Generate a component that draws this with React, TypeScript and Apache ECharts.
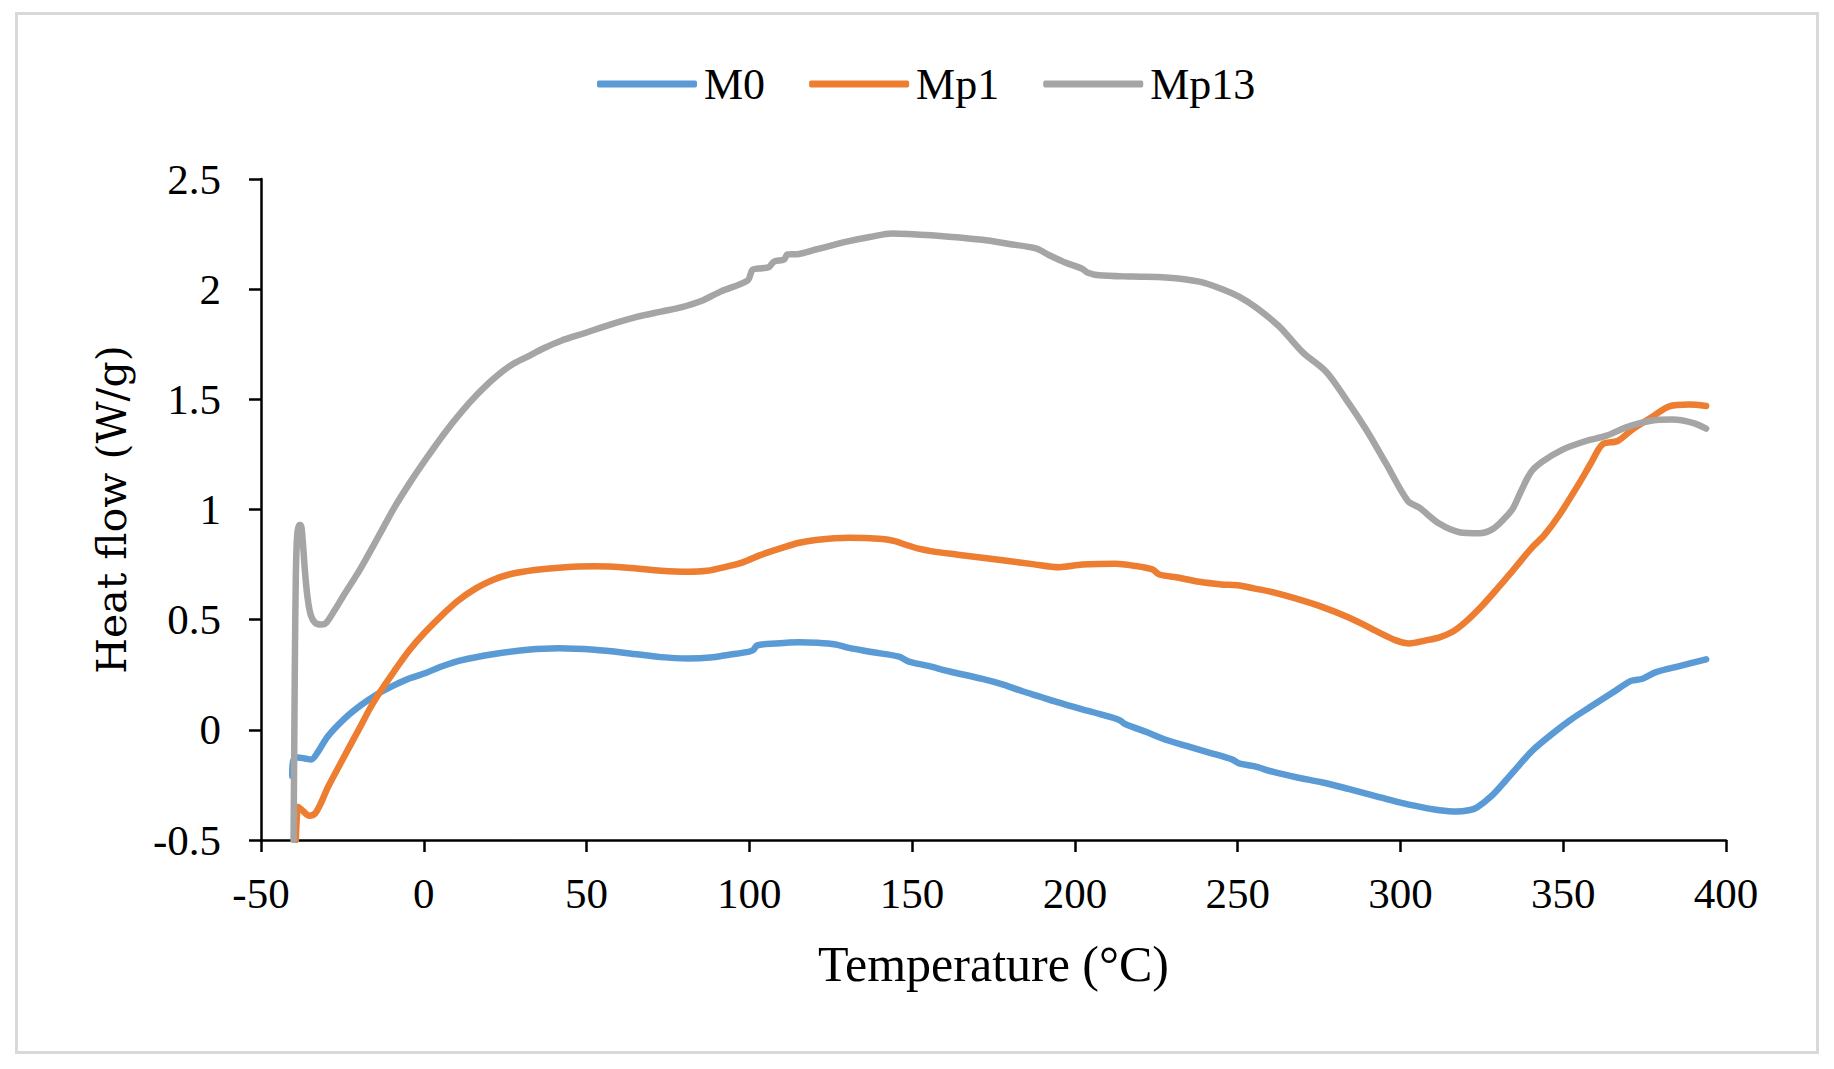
import { useEffect, useRef } from "react";
import * as echarts from "echarts";

// temperature (°C), heat flow (W/g) pairs
const m0: [number, number][] = [
  [-40.4, -0.21], [-40.1, -0.14], [-38.7, -0.125], [-36.5, -0.13], [-34.6, -0.135], [-32.5, -0.1],
  [-29.5, -0.03], [-24.4, 0.05], [-19.3, 0.112], [-14.2, 0.163], [-9, 0.203], [-4.5, 0.233],
  [0.6, 0.258], [5, 0.285], [11.4, 0.315], [21.7, 0.344], [31.9, 0.363], [41.5, 0.37], [52.4, 0.363],
  [62.6, 0.348], [72.9, 0.33], [81.1, 0.324], [88, 0.328], [93.4, 0.34], [100, 0.355], [101.2, 0.362],
  [102.4, 0.383], [108, 0.392], [115.3, 0.398], [121, 0.395], [126.5, 0.387], [130.6, 0.372],
  [138, 0.352], [146, 0.332], [149, 0.31], [155, 0.29], [161.3, 0.266], [171.6, 0.231], [178, 0.205],
  [183.9, 0.175], [189, 0.152], [194.1, 0.128], [202.3, 0.093], [208, 0.07], [213.6, 0.045],
  [215.6, 0.025], [222, -0.01], [227.9, -0.045], [234, -0.072], [241.2, -0.103], [248.4, -0.135],
  [250.4, -0.152], [255, -0.165], [260.7, -0.19], [268, -0.215], [276.1, -0.239], [284, -0.268],
  [291.5, -0.297], [299, -0.327], [306.8, -0.352], [312, -0.365], [317.1, -0.371], [321, -0.365],
  [323.5, -0.352], [328, -0.3], [332.4, -0.229], [336.5, -0.16], [340.6, -0.093], [346.8, -0.016],
  [352.9, 0.052], [358, 0.101], [365.2, 0.169], [370.8, 0.222], [374.4, 0.232], [378.5, 0.262],
  [385.7, 0.289], [393.9, 0.32],
];

const mp1: [number, number][] = [
  [-39.3, -0.5], [-39.0, -0.4], [-38.6, -0.35], [-37, -0.37], [-35.2, -0.39], [-33.4, -0.38],
  [-31.5, -0.33], [-29.5, -0.262], [-24.4, -0.12], [-19.3, 0.02], [-16.5, 0.098], [-13.75, 0.165],
  [-9, 0.268], [-4.5, 0.36], [0, 0.437], [5.7, 0.522], [10.5, 0.586], [16, 0.642], [21, 0.679],
  [26.2, 0.705], [34, 0.725], [41.5, 0.736], [52.4, 0.742], [62.6, 0.736], [72.9, 0.722], [81.1, 0.717],
  [87, 0.722], [93.4, 0.742], [98, 0.76], [103.6, 0.794], [110.1, 0.826], [115, 0.848], [120.4, 0.862],
  [130.6, 0.872], [140.9, 0.866], [145, 0.855], [148, 0.84], [152, 0.822], [156.2, 0.81], [164, 0.795],
  [171.6, 0.781], [179, 0.767], [187, 0.752], [195.1, 0.738], [202.3, 0.75], [212.5, 0.754],
  [218, 0.745], [223.8, 0.728], [225.9, 0.705], [232, 0.69], [238.2, 0.672], [245, 0.66],
  [250.5, 0.655], [255, 0.642], [260.7, 0.625], [268, 0.595], [276.1, 0.557], [284.3, 0.509],
  [289, 0.475], [293.5, 0.441], [298.6, 0.406], [302.7, 0.392], [307.8, 0.406], [312, 0.42],
  [316, 0.445], [320, 0.49], [325.3, 0.567], [330, 0.645], [334.5, 0.723], [340.6, 0.83], [344, 0.88],
  [348.8, 0.975], [355, 1.121], [358.5, 1.21], [362.1, 1.296], [366.7, 1.311], [371.3, 1.364],
  [377.5, 1.422], [382.6, 1.468], [388.7, 1.476], [393.9, 1.47],
];

const mp13: [number, number][] = [
  [-40.0, -0.5], [-39.8, -0.1], [-39.6, 0.3], [-39.3, 0.7], [-38.9, 0.88], [-38.3, 0.93], [-37.8, 0.93],
  [-37.2, 0.86], [-36.5, 0.72], [-35.7, 0.6], [-34.7, 0.52], [-33.3, 0.485], [-31.5, 0.478],
  [-30, 0.485], [-27.5, 0.54], [-24.4, 0.615], [-19.9, 0.72], [-14.2, 0.87], [-9, 1.01],
  [-3.9, 1.13], [0, 1.215], [6.3, 1.345], [11.4, 1.44], [16.6, 1.525], [21.7, 1.597], [26.8, 1.655],
  [31.9, 1.694], [37, 1.733], [42.2, 1.766], [49.3, 1.8], [57.5, 1.84], [65.7, 1.875], [72.9, 1.898],
  [79, 1.917], [85.2, 1.946], [91.3, 1.99], [99.5, 2.04], [101, 2.088], [104, 2.095], [106, 2.1],
  [107.6, 2.125], [110.7, 2.135], [111.7, 2.158], [115.3, 2.16], [120.4, 2.18], [130.6, 2.218],
  [137, 2.237], [143.9, 2.253], [149, 2.25], [161.3, 2.238], [171.6, 2.224], [179.8, 2.205],
  [188, 2.185], [192, 2.155], [197.2, 2.12], [202.3, 2.092], [203.8, 2.076], [207.4, 2.063],
  [217.7, 2.057], [227.9, 2.053], [238.2, 2.034], [245.3, 2.0], [250.4, 1.966], [255.6, 1.917],
  [262.8, 1.83], [270, 1.713], [277.1, 1.626], [283.3, 1.5], [289.4, 1.364], [295.6, 1.208],
  [302.2, 1.04], [305.8, 1.008], [311.9, 0.936], [318.1, 0.897], [324.2, 0.892], [328.3, 0.911],
  [332, 0.96], [334.5, 1.004], [337, 1.082], [340.1, 1.17], [343.7, 1.218], [349.8, 1.272],
  [357, 1.311], [363.1, 1.334], [369.3, 1.373], [376.5, 1.402], [383.6, 1.408], [389.8, 1.393],
  [393.9, 1.367],
];

const seriesNames = ["M0", "Mp1", "Mp13"];
const seriesColors = ["#5B9BD5", "#ED7D31", "#A5A5A5"];
const seriesData = [m0, mp1, mp13];

const SERIF = "'Liberation Serif', 'Times New Roman', serif";

export default function App() {
  const ref = useRef<HTMLDivElement>(null);

  useEffect(() => {
    document.body.style.margin = "0";
    const el = ref.current;
    if (!el) return;
    const chart = echarts.init(el, undefined, { renderer: "svg" });
    chart.setOption({
      animation: false,
      backgroundColor: "#fff",
      graphic: [
        {
          type: "rect",
          shape: { x: 16.5, y: 13.5, width: 1801, height: 1039 },
          style: { fill: "none", stroke: "#D9D9D9", lineWidth: 3 },
          silent: true,
        },
      ],
      legend: {
        left: 592,
        top: 57,
        icon: "roundRect",
        itemWidth: 100,
        itemHeight: 7,
        itemGap: 44,
        data: seriesNames,
        textStyle: { fontFamily: SERIF, fontSize: 44, color: "#000", padding: [0, 0, 0, 2] },
      },
      grid: { left: 261, right: 108, top: 179, bottom: 229 },
      xAxis: {
        type: "value",
        min: -50,
        max: 400,
        interval: 50,
        name: "Temperature (°C)",
        nameLocation: "middle",
        nameGap: 99,
        nameTextStyle: { fontFamily: SERIF, fontSize: 50, color: "#000" },
        axisLine: { onZero: false, lineStyle: { color: "#000", width: 2.5 } },
        axisTick: { show: true, length: 12, lineStyle: { color: "#000", width: 2.5 } },
        axisLabel: { fontFamily: SERIF, fontSize: 43, color: "#000", margin: 32 },
        splitLine: { show: false },
      },
      yAxis: {
        type: "value",
        min: -0.5,
        max: 2.5,
        interval: 0.5,
        name: "Heat flow (W/g)",
        nameLocation: "middle",
        nameGap: 129,
        nameTextStyle: { fontFamily: "'DejaVu Serif', serif", fontSize: 41, color: "#000" },
        axisLine: { show: true, onZero: false, lineStyle: { color: "#000", width: 2.5 } },
        axisTick: { show: true, length: 12, lineStyle: { color: "#000", width: 2.5 } },
        axisLabel: { fontFamily: SERIF, fontSize: 43, color: "#000", margin: 40 },
        splitLine: { show: false },
      },
      series: seriesNames.map((name, i) => ({
        name,
        type: "line",
        data: seriesData[i],
        showSymbol: false,
        symbol: "none",
        smooth: 0.3,
        clip: true,
        lineStyle: { color: seriesColors[i], width: 6.5, cap: "round", join: "round" },
        itemStyle: { color: seriesColors[i] },
      })),
    });
    return () => {
      chart.dispose();
    };
  }, []);

  return <div ref={ref} style={{ width: 1834, height: 1069 }} />;
}
